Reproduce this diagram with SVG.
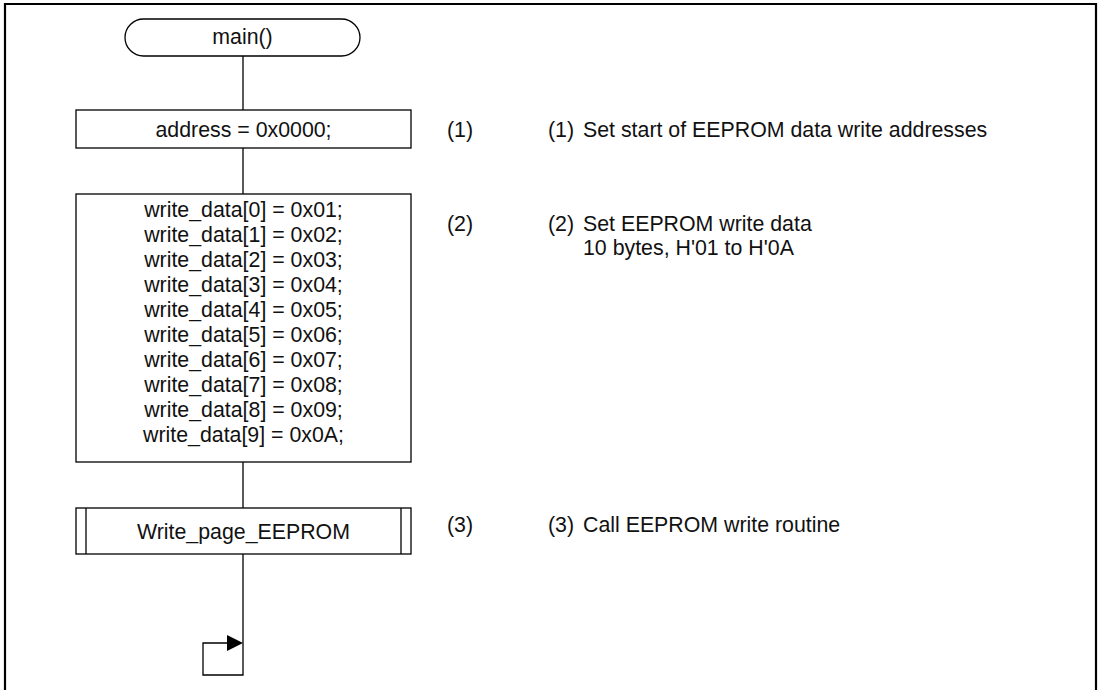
<svg xmlns="http://www.w3.org/2000/svg" width="1102" height="690" viewBox="0 0 1102 690">
<style>
  .shape { fill: #ffffff; stroke: #000000; stroke-width: 1.3; }
  .line { fill: none; stroke: #000000; stroke-width: 1.3; }
  .t { font-family: "Liberation Sans", Arial, sans-serif; font-size: 21.33px; fill: #111111; }
  .c { text-anchor: middle; }
</style>
<rect x="0" y="0" width="1102" height="690" fill="#ffffff"/>
<path d="M5,692 L5,4 L1096,4 L1096,692" fill="none" stroke="#000" stroke-width="2.2"/>
<g id="connectors">
  <line class="line" x1="243" y1="56" x2="243" y2="110"/>
  <line class="line" x1="243" y1="148" x2="243" y2="194"/>
  <line class="line" x1="243" y1="462" x2="243" y2="508"/>
  <polyline class="line" points="243,554 243,675 203,675 203,643 229,643"/>
  <polygon points="227,635 243,643 227,651" fill="#000"/>
</g>
<g id="start">
  <rect class="shape" x="125" y="19" width="235" height="37" rx="18.5" ry="18.5"/>
  <text class="t c" x="242.5" y="44">main()</text>
</g>
<g id="step1">
  <rect class="shape" x="76" y="110" width="335" height="38"/>
  <text class="t c" x="243.5" y="137">address = 0x0000;</text>
</g>
<g id="step2">
  <rect class="shape" x="76" y="194" width="335" height="268"/>
  <text class="t c" x="243.5" y="217">write_data[0] = 0x01;</text>
  <text class="t c" x="243.5" y="242">write_data[1] = 0x02;</text>
  <text class="t c" x="243.5" y="267">write_data[2] = 0x03;</text>
  <text class="t c" x="243.5" y="292">write_data[3] = 0x04;</text>
  <text class="t c" x="243.5" y="317">write_data[4] = 0x05;</text>
  <text class="t c" x="243.5" y="342">write_data[5] = 0x06;</text>
  <text class="t c" x="243.5" y="367">write_data[6] = 0x07;</text>
  <text class="t c" x="243.5" y="392">write_data[7] = 0x08;</text>
  <text class="t c" x="243.5" y="417">write_data[8] = 0x09;</text>
  <text class="t c" x="243.5" y="442">write_data[9] = 0x0A;</text>
</g>
<g id="step3">
  <rect class="shape" x="76" y="508" width="335" height="46"/>
  <line class="line" x1="86" y1="508" x2="86" y2="554"/>
  <line class="line" x1="401" y1="508" x2="401" y2="554"/>
  <text class="t c" x="243.5" y="539">Write_page_EEPROM</text>
</g>
<g id="notes">
  <text class="t" x="447" y="137">(1)</text>
  <text class="t" x="548" y="137">(1)</text>
  <text class="t" x="583" y="137">Set start of EEPROM data write addresses</text>
  <text class="t" x="447" y="231">(2)</text>
  <text class="t" x="548" y="231">(2)</text>
  <text class="t" x="583" y="231">Set EEPROM write data</text>
  <text class="t" x="583" y="255">10 bytes, H'01 to H'0A</text>
  <text class="t" x="447" y="532">(3)</text>
  <text class="t" x="548" y="532">(3)</text>
  <text class="t" x="583" y="532">Call EEPROM write routine</text>
</g>
</svg>
